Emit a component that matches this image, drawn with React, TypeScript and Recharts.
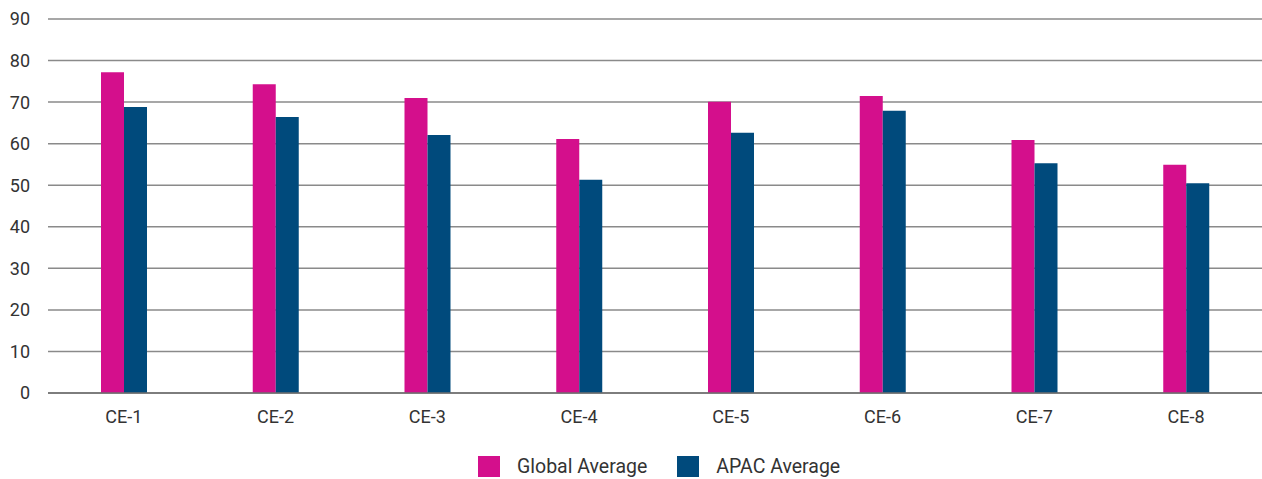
import React from 'react';
import { BarChart, Bar, XAxis, YAxis, CartesianGrid, Legend } from 'recharts';

const categories = ['CE-1', 'CE-2', 'CE-3', 'CE-4', 'CE-5', 'CE-6', 'CE-7', 'CE-8'];
const globalAverage = [77.2, 74.3, 71.0, 61.1, 70.1, 71.5, 60.9, 54.9];
const apacAverage = [68.8, 66.4, 62.1, 51.3, 62.6, 67.9, 55.3, 50.5];
const yTicks = [0, 10, 20, 30, 40, 50, 60, 70, 80, 90];
const seriesNames = ['Global Average', 'APAC Average'];

const data = categories.map((c, i) => ({ name: c, global: globalAverage[i], apac: apacAverage[i] }));

const PINK = '#D40F8C';
const BLUE = '#004A7C';
const FONT = 'Roboto, sans-serif';

const renderLegend = (props: any) => {
  const payload = [...(props.payload || [])].sort(
    (a: any, b: any) => seriesNames.indexOf(a.value) - seriesNames.indexOf(b.value)
  );
  return (
    <div style={{ boxSizing: 'border-box', height: 46, paddingTop: 21, paddingLeft: 478, display: 'flex', alignItems: 'center', fontFamily: FONT, fontSize: 19.5, color: '#333' }}>
      {payload.map((p: any, i: number) => (
        <div key={i} style={{ display: 'flex', alignItems: 'center', marginLeft: i === 0 ? 0 : 30 }}>
          <div style={{ width: 22, height: 21, background: p.color, marginRight: 17 }} />
          <span>{p.value}</span>
        </div>
      ))}
    </div>
  );
};

export default function App() {
  return (
    <div style={{ position: 'absolute', left: 0, top: 0, width: 1262, height: 479, background: '#fff' }}>
      <BarChart
        width={1262}
        height={479}
        data={data}
        margin={{ top: 19, right: 0, left: 0, bottom: 0 }}
        barGap={0}
        barSize={23}
      >
        <CartesianGrid vertical={false} stroke="#8a8a8a" strokeWidth={1.5} />
        <XAxis
          dataKey="name"
          tickLine={false}
          axisLine={{ stroke: '#6f6f6f', strokeWidth: 1.5 }}
          tickSize={0}
          tickMargin={17}
          height={40}
          tick={{ fill: '#333', fontSize: 18, fontFamily: FONT }}
        />
        <YAxis
          domain={[0, 90]}
          ticks={yTicks}
          width={48}
          tickLine={false}
          axisLine={false}
          tickSize={0}
          tickMargin={18}
          interval={0}
          tick={{ fill: '#333', fontSize: 18, fontFamily: FONT }}
        />
        <Legend verticalAlign="bottom" height={46} content={renderLegend} />
        <Bar dataKey="global" name="Global Average" fill={PINK} isAnimationActive={false} />
        <Bar dataKey="apac" name="APAC Average" fill={BLUE} isAnimationActive={false} />
      </BarChart>
    </div>
  );
}
